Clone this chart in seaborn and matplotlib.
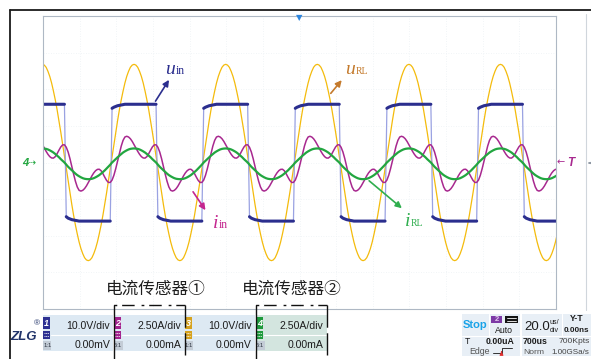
import numpy as np
import pandas as pd
import matplotlib
matplotlib.use("Agg")
import matplotlib.pyplot as plt
import seaborn as sns
from matplotlib.lines import Line2D
from matplotlib.patches import Rectangle, FancyArrowPatch

W, H = 591, 359

# ---- acquisition settings ----
TIME_PER_DIV_US = 20.0
H_DIVS = 14
V_DIVS = 8
SAMPLE_STEP_US = 1.0
FIRST_SAMPLE_US = -0.3

CH_NAMES = ["1", "2", "3", "4"]
CH_SCALE = [10.0, 2.5, 10.0, 2.5]
CH_UNIT = ["V", "A", "V", "A"]
CH_OFFSET = ["0.00mV", "0.00mA", "0.00mV", "0.00mA"]
CH_PROBE = ["1:1", "5:1", "1:1", "5:1"]

RUN_STATE = "Stop"
TRIGGER_MODE = "Auto"
TRIGGER_LEVEL = "0.00uA"
TRIGGER_TYPE = "Edge"
RECORD_TIME = "700us"
MEMORY_DEPTH = "700Kpts"
ACQ_MODE = "Norm"
SAMPLE_RATE = "1.00GSa/s"
H_POSITION = "0.00ns"

# ---- one 50 us period of every trace, one sample per microsecond ----
# ch1: inverter output voltage u_in (V)
U_IN = [15.9, 15.9, 15.9, 15.9, 15.9, 15.9, 15.9, 15.9, 15.9, 15.9,
        15.9, 15.9, 15.9, -14.8, -15.2, -15.4, -15.6, -15.7, -15.8, -15.9,
        -16.0, -16.0, -16.0, -16.0, -16.0, -16.0, -16.0, -16.0, -16.0, -16.0,
        -16.0, -16.0, -16.0, -16.0, -16.0, -16.0, -16.0, -16.0, 14.8, 15.1,
        15.3, 15.5, 15.6, 15.7, 15.8, 15.9, 15.9, 15.9, 15.9, 15.9]
# ch2: input current i_in (A)
I_IN = [1.22, 0.99, 0.76, 0.56, 0.40, 0.31, 0.30, 0.40, 0.60, 0.84,
        1.06, 1.20, 1.21, 1.04, 0.72, 0.27, -0.26, -0.79, -1.28, -1.67,
        -1.90, -1.95, -1.90, -1.78, -1.60, -1.38, -1.15, -0.91, -0.71, -0.56,
        -0.47, -0.46, -0.56, -0.76, -1.00, -1.22, -1.36, -1.36, -1.20, -0.87,
        -0.42, 0.10, 0.64, 1.12, 1.51, 1.74, 1.79, 1.74, 1.62, 1.44]
# ch3: load voltage u_RL (V)
U_RL = [26.8, 26.6, 26.0, 24.9, 23.5, 21.7, 19.5, 17.1, 14.4, 11.4,
        8.3, 5.0, 1.7, -1.7, -5.0, -8.3, -11.4, -14.4, -17.1, -19.5,
        -21.7, -23.5, -24.9, -26.0, -26.6, -26.8, -26.6, -26.0, -24.9, -23.5,
        -21.7, -19.5, -17.1, -14.4, -11.4, -8.3, -5.0, -1.7, 1.7, 5.0,
        8.3, 11.4, 14.4, 17.1, 19.5, 21.7, 23.5, 24.9, 26.0, 26.6]
# ch4: load current i_RL (A)
I_RL = [0.96, 0.95, 0.93, 0.89, 0.83, 0.76, 0.68, 0.58, 0.47, 0.36,
        0.23, 0.12, 0.00, -0.15, -0.29, -0.41, -0.54, -0.65, -0.76, -0.86,
        -0.94, -1.01, -1.07, -1.11, -1.13, -1.14, -1.13, -1.11, -1.07, -1.01,
        -0.94, -0.86, -0.76, -0.65, -0.54, -0.41, -0.29, -0.15, 0.00, 0.12,
        0.23, 0.36, 0.47, 0.58, 0.68, 0.76, 0.83, 0.89, 0.93, 0.95]

NAVY = "#2b2e8e"
BLUE_THIN = "#9aa2e2"
MAGENTA = "#a8288f"
YELLOW = "#f4bb0c"
GREEN = "#22a640"
CH_COLORS = ["#2e3192", "#a3238e", "#d6a21e", "#1f9a3c"]

sns.set_theme(style="white")
plt.rcParams["font.family"] = ["Liberation Sans", "DejaVu Sans"]


def px(x):
    return x / W


def py(y):
    return 1 - y / H


fig = plt.figure(figsize=(W / 100, H / 100), dpi=100)
fig.patch.set_facecolor("white")
ax = fig.add_axes([px(43), py(309), (556 - 43) / W, (309 - 16) / H])


def record(values, ch):
    v = np.asarray(values, dtype=float)
    n = v.size
    period = n * SAMPLE_STEP_US
    reps = np.arange(-1, int(np.ceil(H_DIVS * TIME_PER_DIV_US / period)) + 2)
    t = (FIRST_SAMPLE_US + reps[:, None] * period
         + np.arange(n)[None, :] * SAMPLE_STEP_US).ravel()
    return pd.DataFrame({"t": t, "div": np.tile(v, reps.size) / CH_SCALE[ch]})


u_in = record(U_IN, 0)
i_in = record(I_IN, 1)
u_rl = record(U_RL, 2)
i_rl = record(I_RL, 3)

common = dict(x="t", y="div", ax=ax, estimator=None, sort=False, legend=False)
sns.lineplot(data=u_rl, color=YELLOW, lw=0.9, **common)
sns.lineplot(data=u_in, color=BLUE_THIN, lw=0.9, **common)
# plateaus of the square wave are drawn bright (persistence), edges stay faint
steep = np.abs(np.diff(u_in["div"].to_numpy())) > 0.5
run = np.concatenate([[0], np.cumsum(steep)])
keep = np.zeros(len(u_in), bool)
keep[:-1] |= ~steep
keep[1:] |= ~steep
flat = u_in.assign(run=run)[keep]
sns.lineplot(data=flat, units="run", color=NAVY, lw=2.2, **common)
sns.lineplot(data=i_in, color=MAGENTA, lw=1.1, **common)
sns.lineplot(data=i_rl, color=GREEN, lw=1.6, **common)

ax.set_xlim(0, H_DIVS * TIME_PER_DIV_US)
ax.set_ylim(-V_DIVS / 2, V_DIVS / 2)
ax.set_xticks(np.arange(H_DIVS + 1) * TIME_PER_DIV_US)
ax.set_yticks(np.arange(-V_DIVS / 2, V_DIVS / 2 + 1))
ax.tick_params(length=0, labelbottom=False, labelleft=False)
ax.grid(True, color="#edf1f5", lw=0.6, ls=(0, (1, 2)))
ax.set_xlabel("")
ax.set_ylabel("")
for s in ax.spines.values():
    s.set_color("#aeb8c4")
    s.set_linewidth(0.8)


def rect(x0, y0, x1, y1, color, z=1):
    fig.add_artist(Rectangle((px(x0), py(y1)), (x1 - x0) / W, (y1 - y0) / H,
                             transform=fig.transFigure, facecolor=color,
                             edgecolor="none", zorder=z))


def seg(xs, ys, **kw):
    fig.add_artist(Line2D([px(x) for x in xs], [py(y) for y in ys],
                          transform=fig.transFigure, **kw))


def label(x, y, s, **kw):
    kw.setdefault("va", "center")
    fig.text(px(x), py(y), s, **kw)


def arrow(x0, y0, x1, y1, color, scale=9, lw=1.2):
    fig.add_artist(FancyArrowPatch((px(x0), py(y0)), (px(x1), py(y1)),
                                   transform=fig.transFigure, arrowstyle="-|>",
                                   mutation_scale=scale, lw=lw, color=color, zorder=6))


# screen frame
seg([10, 10], [359, 10], color="#1a1a1a", lw=1.3, zorder=5)
seg([10, 591], [10, 10], color="#1a1a1a", lw=1.3, zorder=5)
seg([586, 586], [14, 310], color="#d0d6dc", lw=0.8)
arrow(592, 163, 588.5, 163, "#8a94a0", scale=6, lw=0.8)

# screen markers
label(299.5, 17.5, "▼", ha="center", color="#2e86de", fontsize=6, family=["DejaVu Sans"])
label(22, 163, "4", color=GREEN, fontsize=8, fontweight="bold", style="italic")
label(27.5, 163, "⇢", color=GREEN, fontsize=7, family=["DejaVu Sans"])
label(557, 162.5, "←", color=MAGENTA, fontsize=7, family=["DejaVu Sans"])
label(567.5, 162.5, "T", color=MAGENTA, fontsize=8.5, fontweight="bold", style="italic")

# trace names
SERIF = ["Liberation Serif", "DejaVu Serif"]


def trace_name(x, y, main, sub, color, subsize):
    fig.text(px(x), py(y), main, color=color, fontsize=14, style="italic",
             family=SERIF, va="baseline", zorder=7)
    fig.text(px(x + 10.5 if main == "u" else x + 6), py(y), sub, color=color,
             fontsize=subsize, family=SERIF, va="baseline", zorder=7)


trace_name(165.5, 74, "u", "in", NAVY, 8.5)
arrow(154, 103.5, 170.5, 77.5, NAVY)
trace_name(345.5, 74, "u", "RL", "#c47a2c", 7)
arrow(329, 95.5, 343.5, 78, "#c47a2c")
trace_name(212.5, 228, "i", "in", "#c4268f", 8.5)
arrow(191.5, 189.5, 207, 212.5, "#c4268f")
trace_name(404.5, 226.5, "i", "RL", "#2fae4e", 7)
arrow(367, 179, 404, 210, "#2fae4e")

# sensor callouts
CJK = ["Noto Sans CJK SC", "DejaVu Sans"]
label(156, 289.5, "电流传感器①", ha="center", fontsize=12, family=CJK,
      fontweight="light", color="#1e1e1e", zorder=7)
label(292, 289.5, "电流传感器②", ha="center", fontsize=12, family=CJK,
      fontweight="light", color="#1e1e1e", zorder=7)

# channel panels
PANEL_X = [43, 114, 184.5, 256]
PANEL_BG = ["#dde9f3", "#dde9f3", "#dde9f3", "#d3e5df"]


def scale_text(scale, unit):
    digits = max(0, 2 - int(np.floor(np.log10(scale))))
    return f"{scale:.{digits}f}{unit}/div"


for i, x0 in enumerate(PANEL_X):
    rect(x0, 315, x0 + 70.5, 351, PANEL_BG[i])
    seg([x0 + 8, x0 + 70.5], [334.5, 334.5], color="white", lw=0.8, zorder=2)
    rect(x0, 317, x0 + 7.2, 329, CH_COLORS[i], z=3)
    label(x0 + 3.6, 323, CH_NAMES[i], ha="center", color="white", fontsize=6.5,
          fontweight="bold", style="italic", zorder=4)
    rect(x0, 330.5, x0 + 7.2, 338.5, CH_COLORS[i], z=3)
    for yy in (333, 335.8):
        seg([x0 + 1.3, x0 + 5.9], [yy, yy], color="white", lw=0.6,
            ls=(0, (1.2, 0.8)), zorder=4)
    rect(x0, 340.5, x0 + 8.5, 349.5, "#c3ccd6", z=3)
    label(x0 + 4.25, 345.5, CH_PROBE[i], ha="center", color="#2c3440", fontsize=4.2, zorder=4)
    label(x0 + 67, 326, scale_text(CH_SCALE[i], CH_UNIT[i]), ha="right",
          color="#1c1c1c", fontsize=7.6, zorder=4)
    label(x0 + 67, 345.5, CH_OFFSET[i], ha="right", color="#1c1c1c",
          fontsize=7.6, zorder=4)

# dashed brackets joining the callouts to channels 2 and 4
for xl, xr in [(113.5, 184.5), (256, 327)]:
    seg([xl, xl], [359, 304.5], color="#111111", lw=1.0, zorder=8)
    seg([xl, xr], [304.5, 304.5], color="#111111", lw=1.0, ls=(0, (2, 3.5, 9, 5)), zorder=8)
    seg([xr, xr], [304.5, 359], color="#111111", lw=1.0, ls=(0, (16, 4)), zorder=8)

# logo
label(24, 337, "ZLG", ha="center", color="#22346a", fontsize=9.5,
      fontweight="bold", style="italic")
label(37, 324, "®", ha="center", color="#22346a", fontsize=6)

# run / trigger box
rect(462, 314, 519.5, 356, "#e8eff6")
seg([462, 519.5], [336, 336], color="white", lw=0.8, zorder=2)
seg([489, 489], [314, 336], color="white", lw=0.8, zorder=2)
label(475.5, 325.5, RUN_STATE, ha="center", color="#1aa3e8", fontsize=8,
      fontweight="bold")
rect(490.5, 315.5, 502.5, 323, "#7d3aa6", z=3)
label(496.5, 319.3, CH_NAMES[1], ha="center", color="#e4c8f0", fontsize=5.5,
      fontweight="bold", zorder=4)
rect(505, 315.5, 517.5, 323, "#151515", z=3)
for yy in (318, 320.5):
    seg([507, 515.5], [yy, yy], color="white", lw=0.6, zorder=4)
label(504, 330.5, TRIGGER_MODE, ha="center", color="#1c1c1c", fontsize=6.3)
label(465, 341.5, "T", color="#1c1c1c", fontsize=6.3)
label(515, 341.5, TRIGGER_LEVEL, ha="right", color="#1c1c1c", fontsize=6.3,
      fontweight="bold")
label(469, 352, TRIGGER_TYPE, color="#555555", fontsize=6.3)
seg([493, 501.5, 501.5, 512], [353, 353, 348, 348], color="#333333", lw=0.7, zorder=3)
fig.add_artist(FancyArrowPatch((px(501.5), py(355)), (px(501.5), py(348.5)),
                               transform=fig.transFigure, arrowstyle="-|>",
                               mutation_scale=5, lw=0.8, color="#e03030", zorder=4))

# timebase box
rect(521.5, 314, 591, 356, "#e8eff6")
seg([521.5, 591], [336, 336], color="white", lw=0.8, zorder=2)
seg([562, 562], [314, 336], color="white", lw=0.8, zorder=2)
label(524.5, 327, f"{TIME_PER_DIV_US:.1f}", color="#1c1c1c", fontsize=9.5)
label(554.5, 322, "us/", ha="center", color="#1c1c1c", fontsize=5)
label(554.5, 330, "div", ha="center", color="#1c1c1c", fontsize=5)
label(577, 318.5, "Y-T", ha="center", color="#1c1c1c", fontsize=6.3, fontweight="bold")
label(589.5, 331, H_POSITION, ha="right", color="#1c1c1c", fontsize=5.8, fontweight="bold")
label(523, 341.5, RECORD_TIME, color="#1c1c1c", fontsize=6.3, fontweight="bold")
label(589.5, 341.5, MEMORY_DEPTH, ha="right", color="#444444", fontsize=6.1)
label(523.5, 352, ACQ_MODE, color="#555555", fontsize=6.1)
label(589.5, 352, SAMPLE_RATE, ha="right", color="#444444", fontsize=5.8)

fig.savefig("out.png", dpi=100)
